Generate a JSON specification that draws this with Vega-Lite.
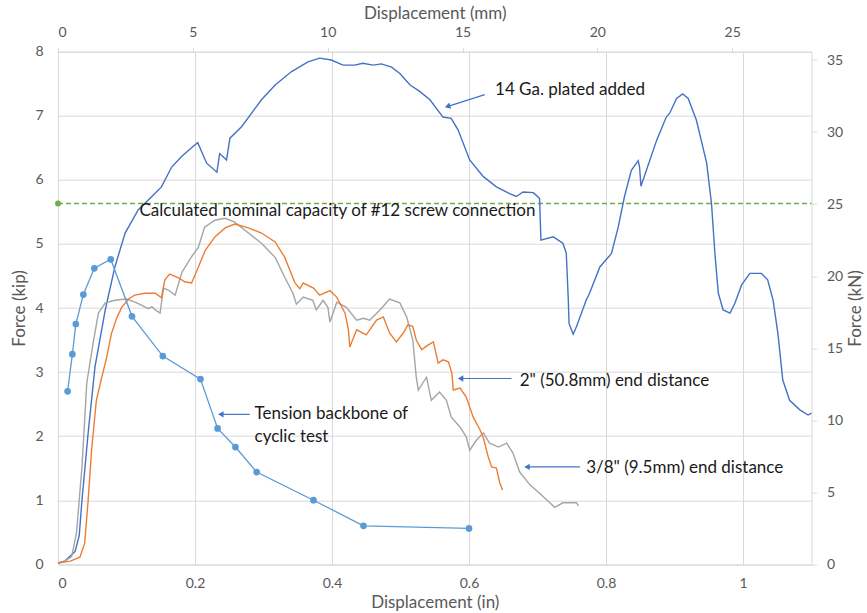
{
"$schema":"https://vega.github.io/schema/vega-lite/v6.json",
"width":753.5,"height":512.6,
"autosize":{"type":"none"},
"padding":{"left":58,"top":51.7,"right":55.5,"bottom":48.7},
"background":"white",
"config":{"view":{"stroke":null},"font":"Lato",
 "axis":{"labelFont":"Lato","titleFont":"Lato","labelColor":"#595959","titleColor":"#595959","labelFontSize":14,"titleFontSize":17,"titleFontWeight":"normal","domainColor":"#D9D9D9","gridColor":"#D9D9D9","tickColor":"#D9D9D9"}},
"layer":[
{"encoding":{
  "x":{"field":"x","type":"quantitative","scale":{"domain":[0,1.1],"nice":false,"zero":false},
       "axis":{"orient":"bottom","values":[0,0.2,0.4,0.6,0.8,1],"format":"~g","grid":true,"ticks":false,"tickSize":0,"labelPadding":12,"title":"Displacement (in)","titlePadding":4}},
  "y":{"field":"y","type":"quantitative","scale":{"domain":[0,8],"nice":false,"zero":false},
       "axis":{"orient":"left","values":[0,1,2,3,4,5,6,7,8],"grid":true,"ticks":false,"tickSize":0,"labelPadding":15,"title":"Force (kip)","titlePadding":6}}
 },
 "layer":[
  {"data":{"values":[{"x":0,"x2":1.1,"y":5.63}]},"mark":{"type":"rule","color":"#70AD47","strokeDash":[5,3],"strokeWidth":1.5},"encoding":{"x2":{"field":"x2"}}},
  {"data":{"values":[{"x":0,"y":5.63}]},"mark":{"type":"point","filled":true,"color":"#70AD47","size":35,"opacity":1}},
  {"data":{"values":[
{"s":"a","x":0,"y":0.02},{"s":"a","x":0.010,"y":0.05},{"s":"a","x":0.025,"y":0.2},{"s":"a","x":0.031,"y":0.45},{"s":"a","x":0.035,"y":1.00},{"s":"a","x":0.044,"y":2.05},{"s":"a","x":0.054,"y":3.08},{"s":"a","x":0.069,"y":3.97},{"s":"a","x":0.083,"y":4.64},{"s":"a","x":0.098,"y":5.17},{"s":"a","x":0.117,"y":5.53},{"s":"a","x":0.137,"y":5.74},{"s":"a","x":0.151,"y":5.89},{"s":"a","x":0.166,"y":6.20},{"s":"a","x":0.180,"y":6.36},{"s":"a","x":0.197,"y":6.52},{"s":"a","x":0.204,"y":6.58},{"s":"a","x":0.217,"y":6.26},{"s":"a","x":0.232,"y":6.12},{"s":"a","x":0.236,"y":6.41},{"s":"a","x":0.241,"y":6.36},{"s":"a","x":0.246,"y":6.31},{"s":"a","x":0.251,"y":6.65},{"s":"a","x":0.268,"y":6.83},{"s":"a","x":0.297,"y":7.25},{"s":"a","x":0.317,"y":7.48},{"s":"a","x":0.341,"y":7.69},{"s":"a","x":0.365,"y":7.84},{"s":"a","x":0.382,"y":7.90},{"s":"a","x":0.399,"y":7.87},{"s":"a","x":0.416,"y":7.79},{"s":"a","x":0.433,"y":7.79},{"s":"a","x":0.445,"y":7.82},{"s":"a","x":0.460,"y":7.79},{"s":"a","x":0.472,"y":7.81},{"s":"a","x":0.487,"y":7.76},{"s":"a","x":0.499,"y":7.66},{"s":"a","x":0.514,"y":7.48},{"s":"a","x":0.528,"y":7.38},{"s":"a","x":0.543,"y":7.25},{"s":"a","x":0.562,"y":6.98},{"s":"a","x":0.574,"y":6.96},{"s":"a","x":0.584,"y":6.78},{"s":"a","x":0.601,"y":6.31},{"s":"a","x":0.621,"y":6.05},{"s":"a","x":0.640,"y":5.89},{"s":"a","x":0.660,"y":5.78},{"s":"a","x":0.669,"y":5.74},{"s":"a","x":0.679,"y":5.81},{"s":"a","x":0.694,"y":5.80},{"s":"a","x":0.703,"y":5.71},{"s":"a","x":0.705,"y":5.06},{"s":"a","x":0.723,"y":5.11},{"s":"a","x":0.737,"y":5.01},{"s":"a","x":0.742,"y":4.86},{"s":"a","x":0.745,"y":4.12},{"s":"a","x":0.746,"y":3.76},{"s":"a","x":0.752,"y":3.59},{"s":"a","x":0.757,"y":3.71},{"s":"a","x":0.771,"y":4.12},{"s":"a","x":0.776,"y":4.23},{"s":"a","x":0.791,"y":4.64},{"s":"a","x":0.808,"y":4.85},{"s":"a","x":0.818,"y":5.27},{"s":"a","x":0.827,"y":5.74},{"s":"a","x":0.837,"y":6.15},{"s":"a","x":0.847,"y":6.30},{"s":"a","x":0.849,"y":6.20},{"s":"a","x":0.851,"y":5.90},{"s":"a","x":0.859,"y":6.15},{"s":"a","x":0.874,"y":6.62},{"s":"a","x":0.888,"y":6.98},{"s":"a","x":0.893,"y":7.04},{"s":"a","x":0.903,"y":7.27},{"s":"a","x":0.912,"y":7.34},{"s":"a","x":0.920,"y":7.27},{"s":"a","x":0.932,"y":6.93},{"s":"a","x":0.947,"y":6.26},{"s":"a","x":0.954,"y":5.63},{"s":"a","x":0.959,"y":4.85},{"s":"a","x":0.964,"y":4.23},{"s":"a","x":0.971,"y":3.97},{"s":"a","x":0.981,"y":3.92},{"s":"a","x":0.988,"y":4.07},{"s":"a","x":0.998,"y":4.36},{"s":"a","x":1.010,"y":4.54},{"s":"a","x":1.027,"y":4.54},{"s":"a","x":1.036,"y":4.44},{"s":"a","x":1.044,"y":4.12},{"s":"a","x":1.051,"y":3.60},{"s":"a","x":1.058,"y":2.88},{"s":"a","x":1.068,"y":2.56},{"s":"a","x":1.083,"y":2.41},{"s":"a","x":1.095,"y":2.33},{"s":"a","x":1.100,"y":2.36},
{"s":"b","x":0,"y":0.02},{"s":"b","x":0.010,"y":0.05},{"s":"b","x":0.020,"y":0.12},{"s":"b","x":0.027,"y":0.49},{"s":"b","x":0.035,"y":1.52},{"s":"b","x":0.042,"y":2.83},{"s":"b","x":0.052,"y":3.50},{"s":"b","x":0.059,"y":3.92},{"s":"b","x":0.069,"y":4.08},{"s":"b","x":0.083,"y":4.12},{"s":"b","x":0.100,"y":4.14},{"s":"b","x":0.115,"y":4.08},{"s":"b","x":0.132,"y":3.99},{"s":"b","x":0.137,"y":4.02},{"s":"b","x":0.142,"y":3.97},{"s":"b","x":0.149,"y":3.92},{"s":"b","x":0.154,"y":4.31},{"s":"b","x":0.161,"y":4.28},{"s":"b","x":0.171,"y":4.20},{"s":"b","x":0.181,"y":4.56},{"s":"b","x":0.195,"y":4.80},{"s":"b","x":0.205,"y":4.95},{"s":"b","x":0.214,"y":5.26},{"s":"b","x":0.229,"y":5.37},{"s":"b","x":0.244,"y":5.40},{"s":"b","x":0.258,"y":5.34},{"s":"b","x":0.278,"y":5.17},{"s":"b","x":0.297,"y":5.01},{"s":"b","x":0.317,"y":4.79},{"s":"b","x":0.331,"y":4.48},{"s":"b","x":0.343,"y":4.23},{"s":"b","x":0.348,"y":4.06},{"s":"b","x":0.358,"y":4.17},{"s":"b","x":0.372,"y":4.12},{"s":"b","x":0.377,"y":3.97},{"s":"b","x":0.387,"y":4.12},{"s":"b","x":0.394,"y":4.01},{"s":"b","x":0.397,"y":3.78},{"s":"b","x":0.407,"y":4.09},{"s":"b","x":0.421,"y":4.01},{"s":"b","x":0.436,"y":3.81},{"s":"b","x":0.446,"y":3.84},{"s":"b","x":0.455,"y":3.81},{"s":"b","x":0.470,"y":3.97},{"s":"b","x":0.484,"y":4.14},{"s":"b","x":0.499,"y":4.08},{"s":"b","x":0.509,"y":3.86},{"s":"b","x":0.518,"y":3.50},{"s":"b","x":0.523,"y":2.92},{"s":"b","x":0.526,"y":2.72},{"s":"b","x":0.538,"y":2.92},{"s":"b","x":0.545,"y":2.56},{"s":"b","x":0.557,"y":2.69},{"s":"b","x":0.567,"y":2.56},{"s":"b","x":0.574,"y":2.30},{"s":"b","x":0.587,"y":2.14},{"s":"b","x":0.596,"y":1.99},{"s":"b","x":0.601,"y":1.78},{"s":"b","x":0.611,"y":1.94},{"s":"b","x":0.621,"y":2.05},{"s":"b","x":0.630,"y":1.89},{"s":"b","x":0.643,"y":1.83},{"s":"b","x":0.655,"y":1.89},{"s":"b","x":0.664,"y":1.74},{"s":"b","x":0.674,"y":1.44},{"s":"b","x":0.689,"y":1.24},{"s":"b","x":0.703,"y":1.11},{"s":"b","x":0.718,"y":0.96},{"s":"b","x":0.725,"y":0.89},{"s":"b","x":0.737,"y":0.96},{"s":"b","x":0.757,"y":0.96},{"s":"b","x":0.760,"y":0.91},
{"s":"c","x":0,"y":0.02},{"s":"c","x":0.018,"y":0.05},{"s":"c","x":0.032,"y":0.11},{"s":"c","x":0.039,"y":0.33},{"s":"c","x":0.044,"y":1.00},{"s":"c","x":0.049,"y":1.78},{"s":"c","x":0.056,"y":2.56},{"s":"c","x":0.064,"y":2.92},{"s":"c","x":0.071,"y":3.23},{"s":"c","x":0.078,"y":3.60},{"s":"c","x":0.086,"y":3.85},{"s":"c","x":0.093,"y":4.01},{"s":"c","x":0.103,"y":4.14},{"s":"c","x":0.112,"y":4.20},{"s":"c","x":0.127,"y":4.23},{"s":"c","x":0.142,"y":4.23},{"s":"c","x":0.151,"y":4.16},{"s":"c","x":0.156,"y":4.44},{"s":"c","x":0.163,"y":4.53},{"s":"c","x":0.176,"y":4.47},{"s":"c","x":0.185,"y":4.41},{"s":"c","x":0.195,"y":4.39},{"s":"c","x":0.205,"y":4.64},{"s":"c","x":0.215,"y":4.90},{"s":"c","x":0.229,"y":5.11},{"s":"c","x":0.244,"y":5.25},{"s":"c","x":0.258,"y":5.31},{"s":"c","x":0.278,"y":5.25},{"s":"c","x":0.297,"y":5.17},{"s":"c","x":0.317,"y":5.03},{"s":"c","x":0.331,"y":4.79},{"s":"c","x":0.346,"y":4.39},{"s":"c","x":0.353,"y":4.30},{"s":"c","x":0.358,"y":4.39},{"s":"c","x":0.373,"y":4.31},{"s":"c","x":0.382,"y":4.20},{"s":"c","x":0.397,"y":4.27},{"s":"c","x":0.407,"y":4.17},{"s":"c","x":0.419,"y":3.92},{"s":"c","x":0.424,"y":3.66},{"s":"c","x":0.426,"y":3.39},{"s":"c","x":0.436,"y":3.66},{"s":"c","x":0.450,"y":3.58},{"s":"c","x":0.465,"y":3.81},{"s":"c","x":0.475,"y":3.86},{"s":"c","x":0.484,"y":3.61},{"s":"c","x":0.494,"y":3.47},{"s":"c","x":0.504,"y":3.61},{"s":"c","x":0.511,"y":3.74},{"s":"c","x":0.518,"y":3.71},{"s":"c","x":0.523,"y":3.50},{"s":"c","x":0.531,"y":3.35},{"s":"c","x":0.540,"y":3.42},{"s":"c","x":0.548,"y":3.47},{"s":"c","x":0.555,"y":3.14},{"s":"c","x":0.562,"y":3.19},{"s":"c","x":0.570,"y":3.16},{"s":"c","x":0.575,"y":2.98},{"s":"c","x":0.577,"y":2.72},{"s":"c","x":0.587,"y":2.75},{"s":"c","x":0.596,"y":2.61},{"s":"c","x":0.606,"y":2.30},{"s":"c","x":0.616,"y":2.10},{"s":"c","x":0.621,"y":1.97},{"s":"c","x":0.628,"y":1.68},{"s":"c","x":0.633,"y":1.52},{"s":"c","x":0.640,"y":1.50},{"s":"c","x":0.645,"y":1.27},{"s":"c","x":0.649,"y":1.16}
  ]},"mark":{"type":"line","strokeWidth":1.4},
   "encoding":{"color":{"field":"s","type":"nominal","scale":{"domain":["a","b","c"],"range":["#4472C4","#A5A5A5","#ED7D31"]},"legend":null}}},
  {"data":{"values":[{"x":0.014,"y":2.70},{"x":0.021,"y":3.28},{"x":0.026,"y":3.75},{"x":0.037,"y":4.21},{"x":0.053,"y":4.62},{"x":0.077,"y":4.76},{"x":0.108,"y":3.87},{"x":0.153,"y":3.25},{"x":0.208,"y":2.89},{"x":0.233,"y":2.12},{"x":0.259,"y":1.83},{"x":0.290,"y":1.44},{"x":0.373,"y":1.00},{"x":0.446,"y":0.60},{"x":0.600,"y":0.56}]},
   "mark":{"type":"line","strokeWidth":1.3,"color":"#5B9BD5","point":{"filled":true,"size":45,"color":"#5B9BD5"}}},
  {"data":{"values":[{"x":0.623,"y":7.33,"x2":0.567,"y2":7.14},{"x":0.662,"y":2.90,"x2":0.588,"y2":2.90},{"x":0.762,"y":1.52,"x2":0.685,"y2":1.52},{"x":0.280,"y":2.34,"x2":0.238,"y2":2.34}]},
   "mark":{"type":"rule","color":"#4472C4","strokeWidth":1.2},"encoding":{"x2":{"field":"x2"},"y2":{"field":"y2"}}},
  {"data":{"values":[{"x":0.570,"y":7.15,"a":253},{"x":0.589,"y":2.90,"a":270},{"x":0.686,"y":1.52,"a":270},{"x":0.239,"y":2.34,"a":270}]},
   "mark":{"type":"point","shape":"triangle","filled":true,"color":"#4472C4","size":40,"opacity":1},"encoding":{"angle":{"field":"a","type":"quantitative","scale":null}}},
  {"data":{"values":[{"x":0.638,"y":7.40,"t":"14 Ga. plated added"},{"x":0.119,"y":5.51,"t":"Calculated nominal capacity of #12 screw connection"},{"x":0.674,"y":2.86,"t":"2\" (50.8mm) end distance"},{"x":0.771,"y":1.50,"t":"3/8\" (9.5mm) end distance"},{"x":0.287,"y":2.35,"t":"Tension backbone of"},{"x":0.287,"y":1.99,"t":"cyclic test"}]},
   "mark":{"type":"text","align":"left","baseline":"middle","fontSize":17,"font":"Lato","color":"#1a1a1a"},"encoding":{"text":{"field":"t"}}}
 ]},
{"data":{"values":[{"mm":0,"kN":0},{"mm":27.94,"kN":35.586}]},
 "mark":{"type":"point","opacity":0},
 "encoding":{
  "x":{"field":"mm","type":"quantitative","scale":{"domain":[0,27.94],"nice":false,"zero":false},
       "axis":{"orient":"top","values":[0,5,10,15,20,25],"grid":false,"ticks":true,"tickSize":4,"labelPadding":8,"title":"Displacement (mm)","titlePadding":3}},
  "y":{"field":"kN","type":"quantitative","scale":{"domain":[0,35.586],"nice":false,"zero":false},
       "axis":{"orient":"right","values":[0,5,10,15,20,25,30,35],"grid":false,"ticks":true,"tickSize":5,"labelPadding":10,"title":"Force (kN)","titleAngle":270,"titleBaseline":"top","titlePadding":5}}
 }}
],
"resolve":{"scale":{"x":"independent","y":"independent"}}
}
